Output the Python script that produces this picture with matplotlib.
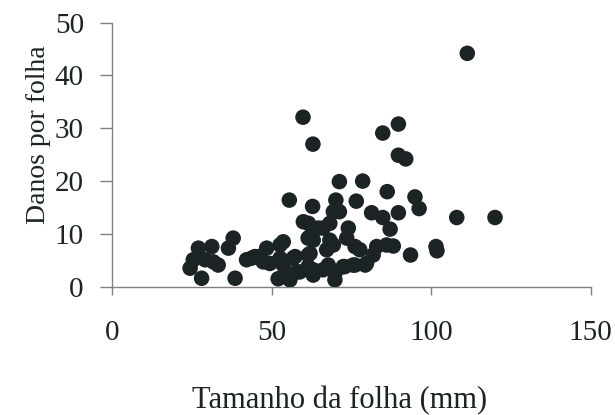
import matplotlib
matplotlib.use("Agg")
import matplotlib.pyplot as plt

# leaf size (mm) and damage per leaf
tamanho = [
    111.3, 59.8, 62.9, 84.8, 89.7, 89.7, 92.0, 71.2, 78.5, 86.2,
    94.9, 96.2, 55.5, 70.1, 76.5, 62.8, 69.3, 81.3, 84.8, 89.7,
    87.1, 59.9, 64.6, 74.0, 61.4, 68.2, 76.1, 82.9, 86.0, 88.1,
    93.5, 81.8, 79.7, 56.7, 61.4, 61.4, 67.2, 69.8, 66.1, 72.4,
    76.1, 57.8, 63.0, 108.0, 120.0, 101.5, 101.8, 27.0, 31.2, 37.9,
    36.4, 25.4, 24.4, 29.1, 33.2, 28.0, 38.5, 43.7, 48.4, 45.8,
    47.3, 49.4, 52.6, 52.6, 52.0, 53.6, 55.7, 57.3, 62.0, 62.0,
    63.0, 66.1, 69.3, 67.7, 69.8, 72.9, 77.6, 79.3, 75.5, 58.8,
    54.7, 42.1, 44.7, 31.7, 71.2, 68.2, 63.0, 73.5, 53.6, 61.5,
]
danos = [
    44.2, 32.1, 27.0, 29.1, 30.8, 24.9, 24.2, 19.9, 20.0, 18.0,
    17.0, 14.8, 16.4, 16.4, 16.2, 15.2, 14.2, 14.0, 13.1, 14.0,
    10.9, 12.3, 11.1, 11.1, 9.2, 8.8, 7.6, 7.6, 7.9, 7.7,
    6.0, 6.0, 4.4, 5.4, 6.0, 3.8, 7.0, 2.5, 3.2, 3.8,
    4.1, 2.8, 3.2, 13.1, 13.1, 7.6, 6.8, 7.3, 7.6, 9.2,
    7.3, 5.1, 3.5, 5.1, 4.1, 1.6, 1.6, 5.4, 7.3, 5.7,
    4.7, 4.4, 7.9, 5.4, 1.5, 4.1, 1.3, 5.7, 9.5, 6.3,
    2.2, 11.1, 7.9, 4.1, 1.3, 3.8, 7.0, 4.1, 4.1, 2.8,
    2.2, 5.1, 5.7, 4.7, 14.2, 12.0, 8.8, 9.2, 8.5, 12.0,
]

xticks = [0, 50, 100, 150]
yticks = [0, 10, 20, 30, 40, 50]

plt.rcParams["font.family"] = ["Liberation Serif", "DejaVu Serif"]

fig = plt.figure(figsize=(6.15, 4.15), dpi=100)
ax = fig.add_axes([0.1826, 0.3092, 0.7779, 0.6361])

ax.scatter(tamanho, danos, s=125, color="#1b2325", edgecolors="none", zorder=3)

ax.set_xlim(0, 150)
ax.set_ylim(0, 50)
ax.set_xticks(xticks)
ax.set_yticks(yticks)

for side in ["top", "right"]:
    ax.spines[side].set_visible(False)
for side in ["left", "bottom"]:
    ax.spines[side].set_color("#808080")
    ax.spines[side].set_linewidth(1.0)

ax.tick_params(axis="x", direction="out", length=6, width=1.0, color="#808080",
               labelsize=21, pad=18, labelcolor="#1b2325")
ax.tick_params(axis="y", direction="out", length=8.5, width=1.0, color="#808080",
               labelsize=21, pad=12, labelcolor="#1b2325")

ax.set_xlabel("Tamanho da folha (mm)", fontsize=22, color="#1b2325", labelpad=29)
ax.set_ylabel("Danos por folha", fontsize=20, color="#1b2325", labelpad=3)
# labels in the original sit a little off the axes centre
ax.xaxis.label.set_x(0.476)
ax.yaxis.label.set_y(0.575)

fig.savefig("out.png", dpi=100)
